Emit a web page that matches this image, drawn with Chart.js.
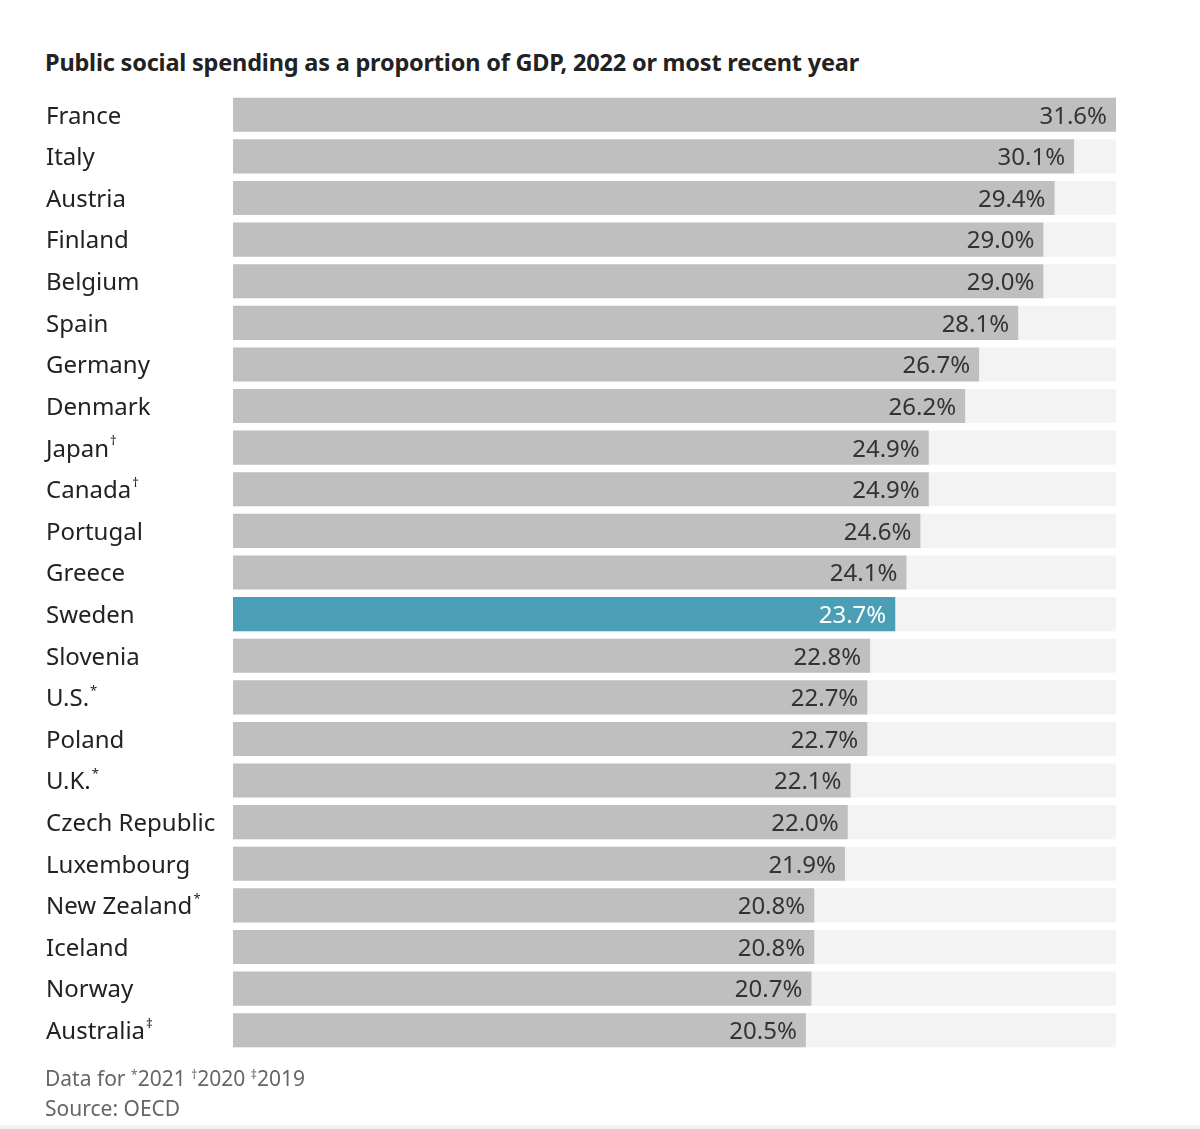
<!DOCTYPE html>
<html>
<head>
<meta charset="utf-8">
<script src="https://cdn.jsdelivr.net/npm/chart.js@4"></script>
<style>
  html, body { margin: 0; padding: 0; background: #fff; }
  #wrap { position: relative; width: 1200px; height: 1129px; overflow: hidden; font-family: "Noto Sans", sans-serif; }
  #title { position: absolute; left: 45px; top: 46px; font-size: 23.5px; font-weight: 700; color: #222; letter-spacing: -0.2px; white-space: nowrap; }
  #chart { position: absolute; left: 0; top: 0; }
  .note { position: absolute; left: 45px; font-size: 21px; color: #666; white-space: nowrap; }
  .note sup { font-size: 12px; vertical-align: 7px; }
  #rule { position: absolute; left: 0; right: 0; bottom: 0; height: 4px; background: #f3f3f3; }
</style>
</head>
<body>
<div id="wrap">
  <div id="title">Public social spending as a proportion of GDP, 2022 or most recent year</div>
  <canvas id="chart" width="1200" height="1129"></canvas>
  <div class="note" style="top:1064px">Data for <sup>*</sup>2021 <sup>†</sup>2020 <sup>‡</sup>2019</div>
  <div class="note" style="top:1094px">Source: OECD</div>
  <div id="rule"></div>
</div>
<script>
// Chart data
const countries = ['France', 'Italy', 'Austria', 'Finland', 'Belgium', 'Spain', 'Germany', 'Denmark',
  'Japan', 'Canada', 'Portugal', 'Greece', 'Sweden', 'Slovenia', 'U.S.', 'Poland', 'U.K.',
  'Czech Republic', 'Luxembourg', 'New Zealand', 'Iceland', 'Norway', 'Australia'];
const marks = ['', '', '', '', '', '', '', '', '†', '†', '', '', '', '', '*', '', '*', '', '', '*', '', '', '‡'];
const spending = [31.6, 30.1, 29.4, 29.0, 29.0, 28.1, 26.7, 26.2, 24.9, 24.9, 24.6, 24.1, 23.7,
  22.8, 22.7, 22.7, 22.1, 22.0, 21.9, 20.8, 20.8, 20.7, 20.5];
const highlight = 'Sweden';
const axisMax = 31.6;

const GRAY = '#bfbfbf';
const TEAL = '#4a9fb7';
const TRACK = '#f3f3f3';
const FONT = '"Noto Sans", sans-serif';

const barColors = countries.map(c => c === highlight ? TEAL : GRAY);
const track = countries.map(() => axisMax);

// draws country names (with small superscript marks) and value labels
const labelPlugin = {
    id: 'labels',
    afterDatasetsDraw(chart) {
        const ctx = chart.ctx;
        const y = chart.scales.y;
        const meta = chart.getDatasetMeta(0);
        ctx.save();
        ctx.textBaseline = 'middle';
        countries.forEach((name, i) => {
            const py = y.getPixelForValue(i) + 2;
            ctx.font = '24px ' + FONT;
            ctx.fillStyle = '#222';
            ctx.textAlign = 'left';
            ctx.fillText(name, 46, py);
            if (marks[i]) {
                const w = ctx.measureText(name).width;
                ctx.font = '13px ' + FONT;
                ctx.fillText(marks[i], 46 + w + 1, py - 8);
            }
            const bar = meta.data[i];
            ctx.font = '24px ' + FONT;
            ctx.textAlign = 'right';
            ctx.fillStyle = name === highlight ? '#fff' : '#333';
            ctx.fillText(spending[i].toFixed(1) + '%', bar.x - 9, py);
        });
        ctx.restore();
    }
};

new Chart(document.getElementById('chart'), {
    type: 'bar',
    data: {
        labels: countries,
        datasets: [
            {
                data: spending,
                backgroundColor: barColors,
                order: 0,
                grouped: false,
                categoryPercentage: 1,
                barPercentage: 0.82
            },
            {
                data: track,
                backgroundColor: TRACK,
                order: 1,
                grouped: false,
                categoryPercentage: 1,
                barPercentage: 0.82
            }
        ]
    },
    options: {
        indexAxis: 'y',
        responsive: false,
        animation: false,
        layout: { padding: { left: 233, right: 84, top: 94, bottom: 78 } },
        plugins: {
            legend: { display: false },
            tooltip: { enabled: false },
            title: { display: false }
        },
        scales: {
            x: { display: false, min: 0, max: axisMax },
            y: { display: false }
        }
    },
    plugins: [labelPlugin]
});
</script>
</body>
</html>
